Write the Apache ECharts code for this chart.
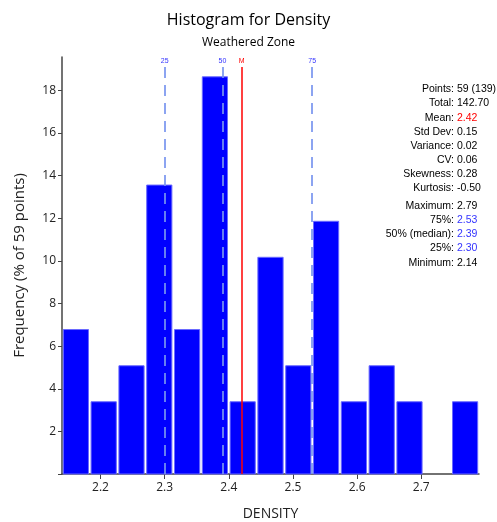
<!DOCTYPE html>
<html>
<head>
<meta charset="utf-8">
<script src="https://cdn.jsdelivr.net/npm/echarts@6/dist/echarts.min.js"></script>
<style>
html,body{margin:0;padding:0;background:#fff;}
#chart{width:497px;height:522px;}
</style>
</head>
<body>
<div id="chart"></div>
<script>
// ---- data ----
const binEdges = [2.140, 2.1833, 2.2267, 2.270, 2.3133, 2.3567, 2.400, 2.4433, 2.4867, 2.530, 2.5733, 2.6167, 2.660, 2.7033, 2.7467, 2.790];
const frequencies = [6.78, 3.39, 5.08, 13.56, 6.78, 18.64, 3.39, 10.17, 5.08, 11.86, 3.39, 5.08, 3.39, 0, 3.39];
const xTickValues = [2.2, 2.3, 2.4, 2.5, 2.6, 2.7];
const yTickValues = [2, 4, 6, 8, 10, 12, 14, 16, 18];
const quantileNames = ['25', '50', '75'];
const quantileValues = [2.30, 2.39, 2.53];
const meanValue = 2.42;
const statLabels = ['Points:', 'Total:', 'Mean:', 'Std Dev:', 'Variance:', 'CV:', 'Skewness:', 'Kurtosis:', 'Maximum:', '75%:', '50% (median):', '25%:', 'Minimum:'];
const statValues = ['59 (139)', '142.70', '2.42', '0.15', '0.02', '0.06', '0.28', '-0.50', '2.79', '2.53', '2.39', '2.30', '2.14'];
const statValueColors = ['#000', '#000', '#ff0000', '#000', '#000', '#000', '#000', '#000', '#000', '#3333ff', '#3333ff', '#3333ff', '#000'];

const xMin = 2.14, xMax = 2.79, yMax = 19.57, lineTop = 19.1;

const histData = frequencies.map((f, i) => [binEdges[i], binEdges[i + 1], f]);

const chart = echarts.init(document.getElementById('chart'), null, {renderer: 'canvas'});

const statFont = '10.5px "Liberation Sans", Arial, sans-serif';
const statGraphics = [];
statLabels.forEach((lab, i) => {
  const y = 89.5 + i * 14.1 + (i >= 8 ? 4 : 0);
  statGraphics.push({type: 'text', x: 454, y: y, style: {text: lab, font: statFont, fill: '#000', textAlign: 'right', textVerticalAlign: 'middle'}});
  statGraphics.push({type: 'text', x: 457, y: y, style: {text: statValues[i], font: statFont, fill: statValueColors[i], textAlign: 'left', textVerticalAlign: 'middle'}});
});

const meanLineStyle = {color: '#ff0000', width: 1.5, type: 'solid', opacity: 1};

const option = {
  animation: false,
  backgroundColor: '#ffffff',
  title: {
    text: 'Histogram for Density',
    subtext: 'Weathered Zone',
    left: 'center',
    top: 7,
    itemGap: 9,
    textStyle: {fontFamily: 'Open Sans', fontSize: 16, fontWeight: 'normal', color: '#000'},
    subtextStyle: {fontFamily: 'Open Sans', fontSize: 12, color: '#000'}
  },
  grid: {left: 62, right: 18, top: 57, bottom: 48, containLabel: false, outerBoundsMode: 'none'},
  xAxis: {
    type: 'value',
    min: xMin,
    max: xMax,
    name: 'DENSITY',
    nameLocation: 'middle',
    nameGap: 33,
    nameTextStyle: {fontFamily: 'Open Sans', fontSize: 14, color: '#222'},
    axisLine: {show: true, onZero: false, lineStyle: {color: '#444', width: 1.5}},
    axisTick: {show: true, length: 5, customValues: xTickValues, lineStyle: {color: '#444'}},
    axisLabel: {customValues: xTickValues, fontFamily: 'Open Sans', fontSize: 12, color: '#222', margin: 8, formatter: v => v.toFixed(1)},
    splitLine: {show: false}
  },
  yAxis: {
    type: 'value',
    min: 0,
    max: yMax,
    name: 'Frequency (% of 59 points)',
    nameLocation: 'middle',
    nameGap: 35,
    nameTextStyle: {fontFamily: 'Open Sans', fontSize: 15, color: '#222'},
    axisLine: {show: true, lineStyle: {color: '#444', width: 1.5}},
    axisTick: {show: true, length: 4, customValues: [0].concat(yTickValues), lineStyle: {color: '#444'}},
    axisLabel: {customValues: yTickValues, fontFamily: 'Open Sans', fontSize: 12, color: '#222', margin: 6},
    splitLine: {show: false}
  },
  series: [
    {
      type: 'custom',
      data: histData,
      encode: {x: [0, 1], y: 2},
      renderItem: function (params, api) {
        const v = api.value(2);
        if (!v) return null;
        const p0 = api.coord([api.value(0), 0]);
        const p1 = api.coord([api.value(1), v]);
        return {
          type: 'rect',
          shape: {x: p0[0] + 1.3, y: p1[1], width: p1[0] - p0[0] - 2.6, height: p0[1] - p1[1]},
          style: {fill: '#0000ff', stroke: '#6a6aff', lineWidth: 1}
        };
      },
      z: 2
    },
    {
      type: 'line',
      data: [],
      z: 5,
      markLine: {
        silent: true,
        symbol: ['none', 'none'],
        animation: false,
        lineStyle: {color: 'rgba(120,148,238,0.85)', width: 2, type: [11, 7]},
        label: {show: true, position: 'end', distance: 2, fontSize: 7, fontFamily: 'Liberation Sans', color: '#3333ff'},
        data: quantileValues.map((q, i) => [
          {coord: [q, 0]},
          {coord: [q, lineTop], label: {formatter: quantileNames[i]}}
        ])
      }
    },
    {
      type: 'line',
      data: [],
      z: 6,
      color: '#ff0000',
      lineStyle: {color: '#ff0000'},
      itemStyle: {color: '#ff0000'},
      markLine: {
        silent: true,
        symbol: ['none', 'none'],
        animation: false,
        lineStyle: meanLineStyle,
        label: {show: true, position: 'end', distance: 2, fontSize: 7, fontFamily: 'Liberation Sans', color: '#ff0000', formatter: 'M'},
        data: [[{coord: [meanValue, 0], lineStyle: meanLineStyle}, {coord: [meanValue, lineTop], lineStyle: meanLineStyle}]]
      }
    }
  ],
  graphic: statGraphics
};
chart.setOption(option);
</script>
</body>
</html>
